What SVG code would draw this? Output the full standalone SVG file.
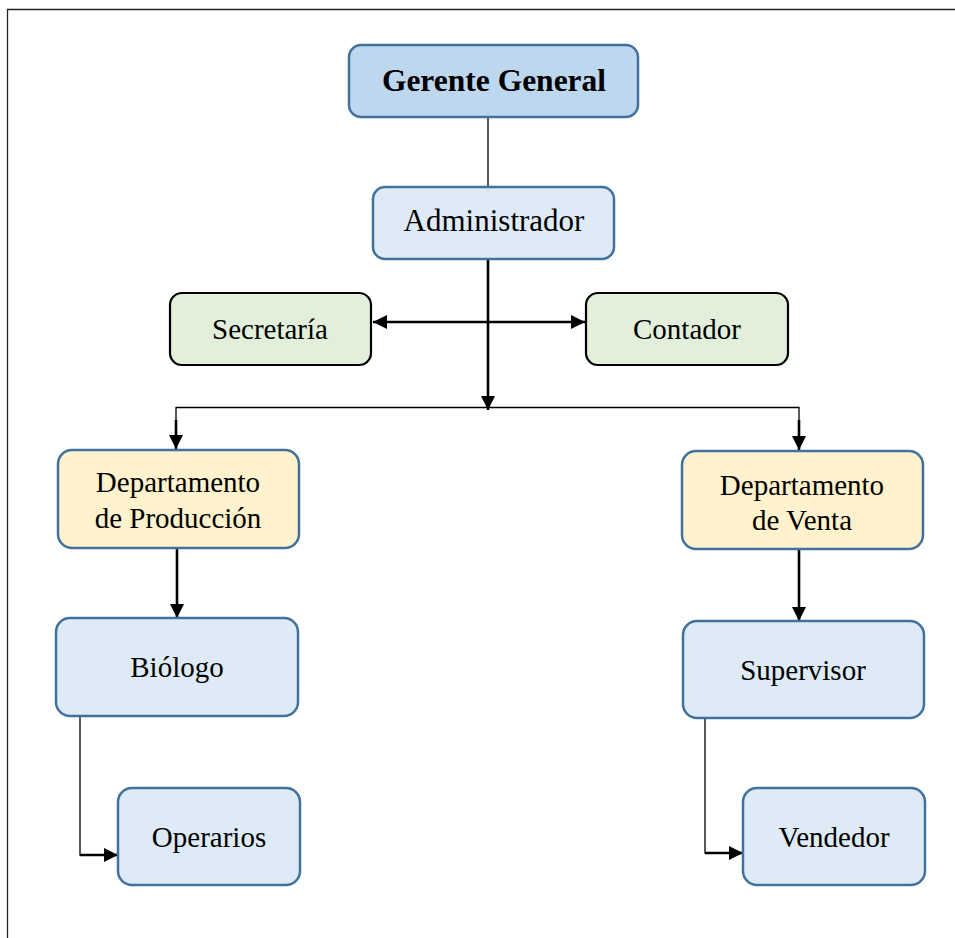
<svg xmlns="http://www.w3.org/2000/svg" width="955" height="938" viewBox="0 0 955 938">
<style>
.t{font-family:"Liberation Serif","Times New Roman",serif;font-size:29px;fill:#000;text-anchor:middle}
.b{stroke:#41719C;stroke-width:2.5}
.g{stroke:#000;stroke-width:2.2}
.thin{fill:none;stroke:#000;stroke-width:1.3}
.thk{fill:none;stroke:#000;stroke-width:2.6}
</style>
<defs>
<marker id="ah2" viewBox="0 0 10 10" refX="10" refY="5" markerWidth="14" markerHeight="14" markerUnits="userSpaceOnUse" orient="auto-start-reverse">
<path d="M0,0 L10,5 L0,10 z" fill="#000"/>
</marker>
</defs>
<rect x="0" y="0" width="955" height="938" fill="#fff"/>
<path d="M7.5,938 V9.5 H955" fill="none" stroke="#222" stroke-width="1.3"/>
<g id="connectors">
<line class="thin" x1="488" y1="117" x2="488" y2="187"/>
<line class="thk" x1="488" y1="259" x2="488" y2="410" marker-end="url(#ah2)"/>
<line class="thk" x1="373" y1="322" x2="585" y2="322" marker-start="url(#ah2)" marker-end="url(#ah2)"/>
<path class="thin" d="M176,447 V407.5 H799 V447"/>
<line class="thk" x1="176" y1="420" x2="176" y2="449" marker-end="url(#ah2)"/>
<line class="thk" x1="799" y1="420" x2="799" y2="450" marker-end="url(#ah2)"/>
<line class="thk" x1="177" y1="548" x2="177" y2="618" marker-end="url(#ah2)"/>
<line class="thk" x1="799" y1="549" x2="799" y2="621" marker-end="url(#ah2)"/>
<path class="thin" d="M80,716 V855 H90"/>
<line class="thk" x1="80" y1="855" x2="118" y2="855" marker-end="url(#ah2)"/>
<path class="thin" d="M705,718 V853 H715"/>
<line class="thk" x1="705" y1="853" x2="743" y2="853" marker-end="url(#ah2)"/>
</g>
<g id="gerente">
<rect class="b" x="349" y="45" width="289" height="72" rx="12" fill="#BDD7EE"/>
<text class="t" x="494" y="91" style="font-weight:bold;font-size:31.5px">Gerente General</text>
</g>
<g id="administrador">
<rect class="b" x="373" y="187" width="241" height="72" rx="12" fill="#DEEBF7"/>
<text class="t" x="494" y="231" style="font-size:31px">Administrador</text>
</g>
<g id="secretaria">
<rect class="g" x="170" y="293" width="201" height="72" rx="12" fill="#E2EFDA"/>
<text class="t" x="270" y="339">Secretaría</text>
</g>
<g id="contador">
<rect class="g" x="586" y="293" width="202" height="72" rx="12" fill="#E2EFDA"/>
<text class="t" x="687" y="339">Contador</text>
</g>
<g id="dept-produccion">
<rect class="b" x="58" y="450" width="241" height="98" rx="14" fill="#FFF2CC"/>
<text class="t" x="178" y="492">Departamento</text>
<text class="t" x="178" y="528">de Producción</text>
</g>
<g id="dept-venta">
<rect class="b" x="682" y="451" width="241" height="98" rx="14" fill="#FFF2CC"/>
<text class="t" x="802" y="495">Departamento</text>
<text class="t" x="802" y="530">de Venta</text>
</g>
<g id="biologo">
<rect class="b" x="56" y="618" width="242" height="98" rx="14" fill="#DEEBF7"/>
<text class="t" x="177" y="677">Biólogo</text>
</g>
<g id="supervisor">
<rect class="b" x="683" y="621" width="241" height="97" rx="14" fill="#DEEBF7"/>
<text class="t" x="803" y="680">Supervisor</text>
</g>
<g id="operarios">
<rect class="b" x="118" y="788" width="182" height="97" rx="14" fill="#DEEBF7"/>
<text class="t" x="209" y="847">Operarios</text>
</g>
<g id="vendedor">
<rect class="b" x="743" y="788" width="182" height="97" rx="14" fill="#DEEBF7"/>
<text class="t" x="834" y="847">Vendedor</text>
</g>
</svg>
